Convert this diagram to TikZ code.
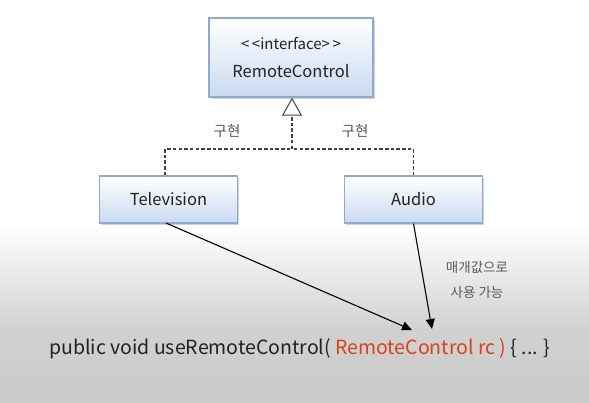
\documentclass[tikz,border=0pt]{standalone}
\usepackage{fontspec}
\setmainfont{Noto Sans CJK KR}
\usetikzlibrary{arrows.meta,shadows}
\definecolor{boxborder}{HTML}{8EAAD0}
\definecolor{boxbottom}{HTML}{C9DAF0}
\definecolor{codered}{HTML}{D9401C}
\definecolor{txt}{HTML}{222222}
\tikzset{
  classbox/.style={draw=boxborder, line width=1.3pt, top color=white, bottom color=boxbottom,
    align=center, text=txt, font=\fontsize{16.5}{20}\selectfont,
    drop shadow={shadow xshift=1.5pt, shadow yshift=-1.5pt, opacity=0.35, fill=gray}},
  realize/.style={draw=txt!85, line width=1.1pt, dash pattern=on 3.5pt off 2.2pt},
  use/.style={draw=black, line width=1.1pt, -{Triangle[length=10pt,width=9pt]}},
  lbl/.style={text=txt!75, font=\fontsize{14.5}{18}\selectfont}
}
\begin{document}
\begin{tikzpicture}[x=1pt,y=-1pt]
\useasboundingbox (0,0) rectangle (589,402);
% background
\fill[white] (0,0) rectangle (589,226);
\shade[top color=white, bottom color=black!18] (0,225) rectangle (589,330);
\shade[top color=black!18, bottom color=black!21] (0,329.5) rectangle (589,402);
% boxes
\node[classbox, minimum width=164pt, minimum height=79pt] (rc) at (291,57.5)
  {{\fontsize{15}{18}\selectfont<\,<interface>\,>}\\[8pt]RemoteControl};
\node[classbox, minimum width=138pt, minimum height=47pt] (tv) at (168.5,199.5) {Television};
\node[classbox, minimum width=138pt, minimum height=47pt] (au) at (413.5,199.5) {Audio};
% realization
\coordinate (j) at (292,149);
\draw[realize] (tv.north -| 165,0) |- (j);
\draw[realize] (au.north) |- (j);
\draw[realize, -{Triangle[open, length=18pt, width=20pt, line width=1pt]}] (j) -- (rc.south -| 292,0);
\node[lbl] (l1) at (227,131) {구현};
\node[lbl] (l2) at (355,131) {구현};
% code
\node[text=txt, anchor=base west, font=\fontsize{19.5}{22}\selectfont, inner sep=0pt] (code) at (49,354)
  {public void useRemoteControl( \textcolor{codered}{RemoteControl rc )} \{ ... \}};
\coordinate (s1) at (166,223);
\coordinate (t1) at (412,330);
\coordinate (t2) at (432,329);
\draw[use] (s1) -- (t1);
\draw[use] (au.south) -- (t2);
\node[lbl, align=center, font=\fontsize{13.5}{25}\selectfont] (l3) at (477,280) {매개값으로\\사용 가능};
\end{tikzpicture}
\end{document}
